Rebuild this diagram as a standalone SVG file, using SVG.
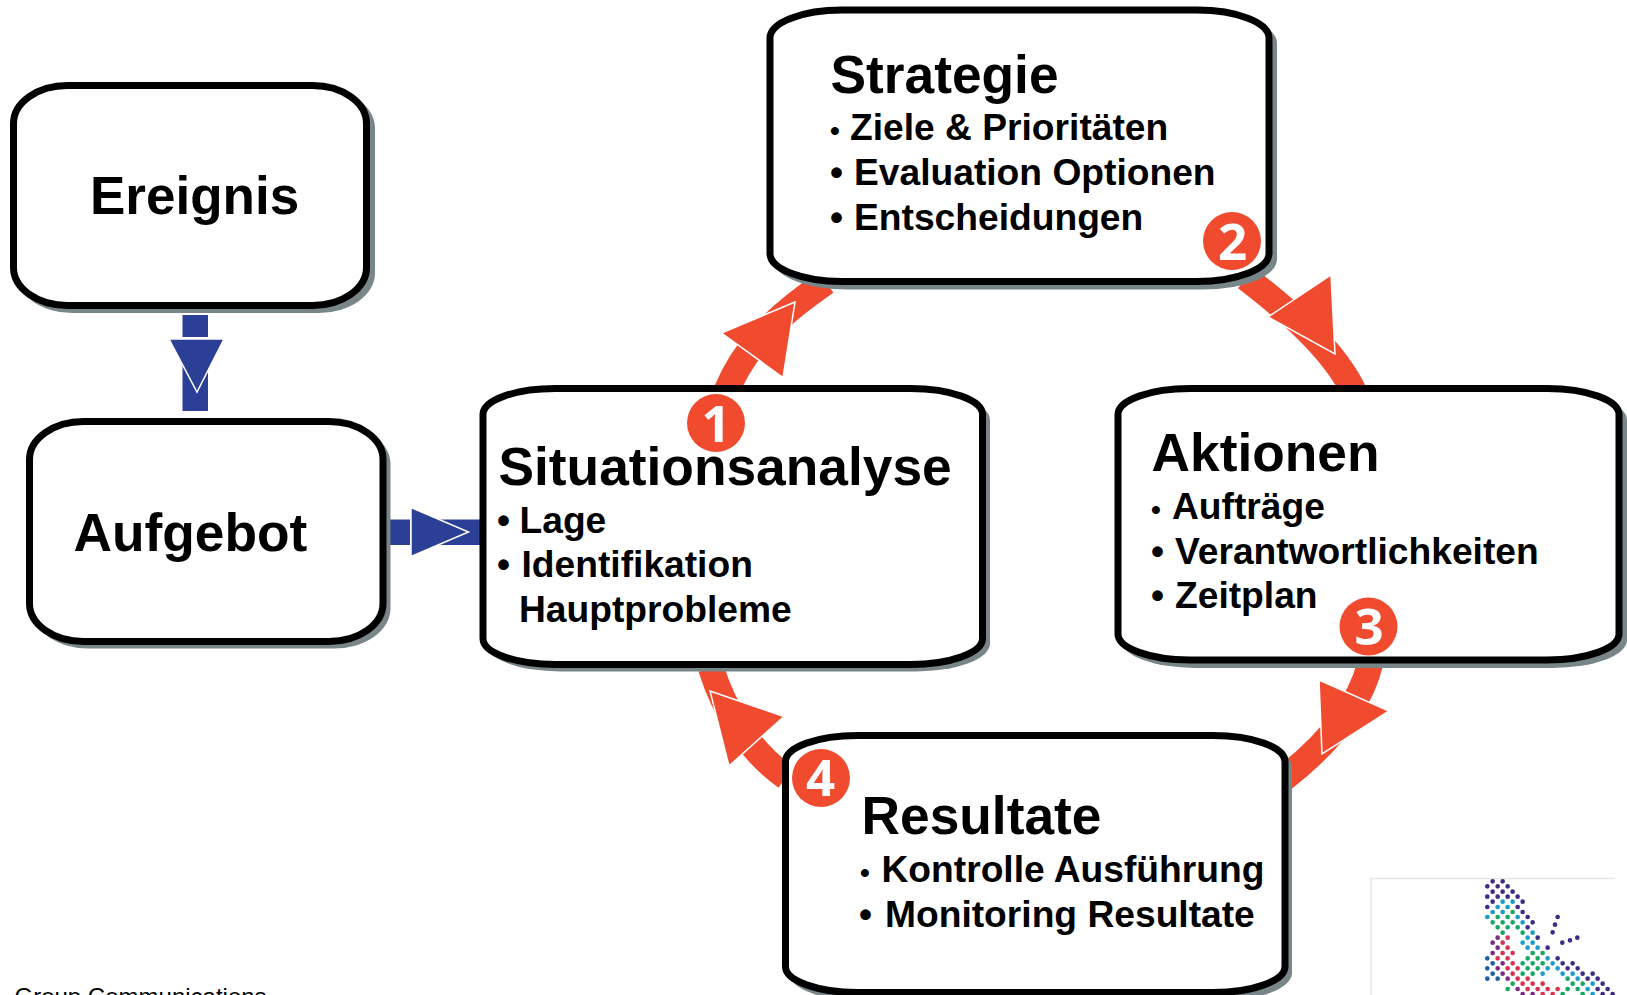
<svg xmlns="http://www.w3.org/2000/svg" width="1627" height="995" viewBox="0 0 1627 995">
<defs>
<style>
.box{fill:#fff;stroke:#000;stroke-width:7}
.shadow{fill:#78868a}
.title{font:bold 53.3px "Liberation Sans",Arial,sans-serif;fill:#000}
.item{font:bold 37.2px "Liberation Sans",Arial,sans-serif;fill:#000}
.small{font-size:28px}
.arc{fill:none;stroke:#f04b2f;stroke-width:26}
.rhead{fill:#f04b2f;stroke:#fff;stroke-width:1.5;stroke-linejoin:miter}
.bar{fill:#2b3f96}
.bhead{fill:#2b3f96;stroke:#fff;stroke-width:1.5}
.badge{fill:#f04b2f}
.num{font:700 51px "Open Sans",sans-serif;fill:#fff;text-anchor:middle}
.foot{font:24px "Liberation Sans",Arial,sans-serif;fill:#000}
.d{fill:none;stroke-linecap:round;stroke-width:14}
</style>
<filter id="soft" x="-5%" y="-5%" width="110%" height="110%"><feGaussianBlur stdDeviation="0.9"/></filter>
</defs>
<g id="connectors">
<rect class="bar" x="182.500" y="315" width="25.500" height="22"/>
<rect class="bar" x="182.500" y="360" width="25.500" height="51"/>
<polygon class="bhead" points="169,339 224,339 197,392"/>
<rect class="bar" x="390" y="519.500" width="20" height="25.500"/>
<rect class="bar" x="440" y="519.500" width="44" height="25.500"/>
<polygon class="bhead" points="411,507.500 411,556.500 468.500,532"/>
<path class="arc" d="M726 392C744 348 774 318 826 282"/>
<polygon class="rhead" points="795,302 721.500,333 783,377.500"/>
<path class="arc" d="M1246 278C1290 312 1334 350 1354 392"/>
<polygon class="rhead" points="1331,275 1268,317 1335,354"/>
<path class="arc" d="M1370 664C1360 705 1327 745 1282 780"/>
<polygon class="rhead" points="1319,680 1389,711 1322,754"/>
<path class="arc" d="M711 668C724 710 749 751 786 777"/>
<polygon class="rhead" points="710,691 784,716.500 729,766"/>
</g>
<g id="ereignis">
<rect class="shadow" x="16" y="88" width="359" height="225" rx="56" ry="40"/>
<rect class="box" x="13.500" y="85.500" width="353" height="220" rx="54" ry="38"/>
<text class="title" x="90" y="214" style="font-size:53px">Ereignis</text>
</g>
<g id="aufgebot">
<rect class="shadow" x="32" y="424" width="358.500" height="224.500" rx="56" ry="40"/>
<rect class="box" x="29.500" y="421.500" width="353.500" height="220" rx="54" ry="38"/>
<text class="title" x="73.500" y="550.500">Aufgebot</text>
</g>
<g id="strategie">
<rect class="shadow" x="773" y="13" width="504" height="276.500" rx="74" ry="30"/>
<rect class="box" x="770" y="10" width="499" height="271.500" rx="72" ry="28"/>
<text class="title" x="830.500" y="92.500">Strategie</text>
<text class="item"><tspan class="small" x="830" y="140">•</tspan><tspan x="850" y="140">Ziele &amp; Prioritäten</tspan><tspan x="830" y="184.500">•</tspan><tspan x="854" y="184.500">Evaluation Optionen</tspan><tspan x="830" y="229.500">•</tspan><tspan x="854" y="229.500">Entscheidungen</tspan></text>
<circle class="badge" cx="1232" cy="241" r="29"/>
<text class="num" x="1232.500" y="260">2</text>
</g>
<g id="situationsanalyse">
<rect class="shadow" x="486" y="392" width="504" height="279.500" rx="74" ry="28"/>
<rect class="box" x="483" y="388.500" width="499.500" height="276" rx="72" ry="26"/>
<circle class="badge" cx="716" cy="423" r="29"/>
<text class="num" x="716" y="442">1</text>
<text class="title" x="498.500" y="484.500">Situationsanalyse</text>
<text class="item"><tspan x="497" y="532.500">•</tspan><tspan x="519.500" y="532.500">Lage</tspan><tspan x="497" y="576.500">•</tspan><tspan x="521.500" y="576.500">Identifikation</tspan><tspan x="519" y="621.500">Hauptprobleme</tspan></text>
</g>
<g id="aktionen">
<rect class="shadow" x="1121" y="392" width="506" height="276" rx="74" ry="28"/>
<rect class="box" x="1118" y="388.500" width="501" height="271.500" rx="72" ry="26"/>
<text class="title" x="1151.500" y="470.500">Aktionen</text>
<text class="item"><tspan class="small" x="1151" y="519">•</tspan><tspan x="1172" y="519">Aufträge</tspan><tspan x="1151" y="564">•</tspan><tspan x="1175" y="564">Verantwortlichkeiten</tspan><tspan x="1151" y="608">•</tspan><tspan x="1175" y="608">Zeitplan</tspan></text>
<circle class="badge" cx="1368.500" cy="626.500" r="29"/>
<text class="num" x="1369" y="645">3</text>
</g>
<g id="resultate">
<rect class="shadow" x="789" y="739" width="503" height="262" rx="74" ry="28"/>
<rect class="box" x="785.500" y="735.500" width="499.500" height="257" rx="72" ry="26"/>
<circle class="badge" cx="821" cy="778" r="29"/>
<text class="num" x="820.500" y="796">4</text>
<text class="title" x="861.500" y="833.500">Resultate</text>
<text class="item"><tspan class="small" x="860" y="882">•</tspan><tspan x="881.500" y="882">Kontrolle Ausführung</tspan><tspan x="859" y="926.500">•</tspan><tspan x="885" y="926.500">Monitoring Resultate</tspan></text>
</g>
<text class="foot" x="14.500" y="1005">Group Communications</text>
<g id="logo">
<path d="M1371 995V878.500H1615" fill="none" stroke="#e6e6e6" stroke-width="1.500"/>
<g transform="translate(1360 861) scale(.3333)" filter="url(#soft)">
<path class="d" stroke="#3f2c86" d="M398 61h0M428 61h0M382 76h0M413 76h0M443 76h0M398 92h0M428 92h0M458 92h0M382 107h0M413 107h0M443 107h0M473 107h0M398 122h0M488 122h0M382 138h0M473 138h0M488 153h0M503 168h0M518 184h0M503 199h0M533 230h0M563 260h0M593 292h0M608 307h0M638 307h0M623 322h0M653 322h0M668 338h0M698 338h0M683 353h0M713 353h0M728 368h0M713 384h0M743 384h0M728 399h0M758 399h0M593 168h0M585 191h0M578 214h0M607 245h0M630 238h0M652 230h0"/>
<path class="d" stroke="#1a9cc9" d="M428 122h0M458 122h0M413 138h0M443 138h0M398 153h0M428 153h0M382 168h0M473 168h0M488 184h0M518 215h0M503 230h0M488 245h0M518 245h0M503 260h0M533 260h0M563 292h0M578 307h0M563 322h0M593 322h0M548 338h0M608 338h0M638 338h0M653 353h0M698 368h0M683 384h0M698 399h0"/>
<path class="d" stroke="#12a860" d="M458 153h0M413 168h0M443 168h0M398 184h0M428 184h0M458 184h0M413 199h0M443 199h0M473 199h0M428 215h0M488 215h0M518 276h0M548 276h0M503 292h0M533 292h0M488 307h0M518 307h0M548 307h0M503 322h0M533 322h0M488 338h0M518 338h0M623 353h0M458 368h0M638 368h0M668 368h0M443 384h0M623 384h0M653 384h0M608 399h0M668 399h0"/>
<path class="d" stroke="#d8304f" d="M443 230h0M428 245h0M443 260h0M428 276h0M458 276h0M413 292h0M443 292h0M458 307h0M443 322h0M473 322h0M458 338h0M473 353h0M503 353h0M488 368h0M518 368h0M548 368h0M503 384h0M533 384h0M563 384h0M593 384h0M548 399h0M578 399h0"/>
<path class="d" stroke="#7a2a85" d="M413 230h0M398 245h0M413 260h0M398 276h0M428 307h0M413 322h0M428 338h0M443 353h0M473 384h0M488 399h0M518 399h0"/>
<path class="d" stroke="#1e5fa8" d="M382 292h0M398 307h0M382 322h0M398 338h0M382 353h0M413 353h0"/>
</g>
</g>
</svg>
